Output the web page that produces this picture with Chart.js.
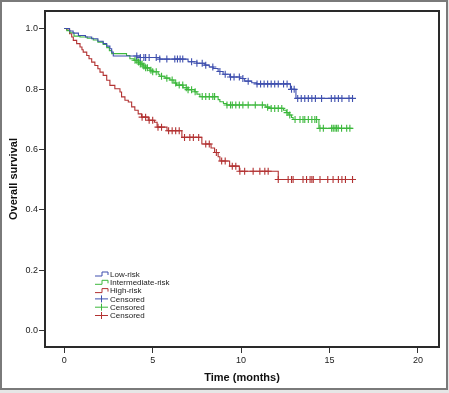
<!DOCTYPE html>
<html>
<head>
<meta charset="utf-8">
<script src="https://cdn.jsdelivr.net/npm/chart.js@4.4.1/dist/chart.umd.min.js"></script>
<style>
  html, body { margin: 0; padding: 0; background: #fff; }
  canvas { display: block; }
</style>
</head>
<body>
<canvas id="kmChart" width="449" height="393"></canvas>
<script>
// Kaplan-Meier curves: time of each drop (months) and survival after the drop
const lowTimes = [0, 0.3, 0.5, 0.8, 1.2, 1.55, 1.9, 2.2, 2.4, 2.58, 2.68, 2.77, 4.3, 5.4, 7.0, 7.5, 7.95, 8.2, 8.42, 8.7, 8.98, 9.36, 9.93, 10.2, 10.6, 10.87, 12.79, 13.1, 16.3];
const lowSurv  = [1.0, 0.992, 0.985, 0.977, 0.972, 0.966, 0.958, 0.95, 0.942, 0.933, 0.922, 0.909, 0.904, 0.899, 0.89, 0.885, 0.879, 0.873, 0.868, 0.858, 0.849, 0.84, 0.835, 0.826, 0.821, 0.817, 0.799, 0.769, 0.769];

const midTimes = [0, 0.15, 0.32, 0.55, 0.89, 1.3, 1.64, 1.9, 2.2, 2.4, 2.55, 2.68, 3.52, 3.71, 3.95, 4.18, 4.3, 4.46, 4.6, 4.84, 5.0, 5.31, 5.4, 5.7, 5.97, 6.2, 6.35, 6.72, 7.0, 7.38, 7.5, 7.67, 8.7, 8.8, 9.0, 9.18, 11.4, 11.6, 12.4, 12.56, 12.7, 12.85, 12.94, 14.4, 16.3];
const midSurv  = [1.0, 0.993, 0.986, 0.975, 0.972, 0.968, 0.962, 0.955, 0.947, 0.937, 0.927, 0.917, 0.911, 0.9, 0.895, 0.889, 0.883, 0.876, 0.87, 0.862, 0.857, 0.849, 0.842, 0.836, 0.83, 0.82, 0.813, 0.804, 0.798, 0.791, 0.783, 0.775, 0.765, 0.758, 0.752, 0.747, 0.74, 0.736, 0.73, 0.722, 0.714, 0.706, 0.699, 0.67, 0.67];

const highTimes = [0, 0.13, 0.3, 0.42, 0.51, 0.7, 0.89, 1.0, 1.07, 1.27, 1.4, 1.55, 1.73, 1.9, 2.02, 2.2, 2.4, 2.58, 2.86, 3.15, 3.24, 3.43, 3.62, 3.81, 3.99, 4.18, 4.37, 4.75, 5.1, 5.25, 5.81, 6.65, 7.78, 8.3, 8.5, 8.7, 8.8, 9.35, 9.9, 12.1, 16.3];
const highSurv  = [1.0, 0.995, 0.983, 0.972, 0.961, 0.95, 0.939, 0.93, 0.922, 0.911, 0.9, 0.889, 0.878, 0.867, 0.856, 0.845, 0.829, 0.812, 0.801, 0.79, 0.774, 0.763, 0.757, 0.741, 0.73, 0.718, 0.707, 0.697, 0.69, 0.674, 0.662, 0.64, 0.618, 0.605, 0.59, 0.576, 0.562, 0.545, 0.528, 0.501, 0.501];

// censored observations (months)
const lowCensor = [4.1, 4.3, 4.5, 4.6, 4.8, 5.2, 5.4, 5.8, 6.25, 6.4, 6.55, 6.7, 7.2, 7.5, 7.8, 8.0, 8.4, 8.8, 9.1, 9.4, 9.6, 9.9, 10.1, 10.4, 10.9, 11.1, 11.3, 11.5, 11.7, 11.9, 12.1, 12.4, 12.6, 12.85, 13.0, 13.2, 13.4, 13.6, 13.8, 14.0, 14.2, 14.55, 15.1, 15.3, 15.5, 15.7, 16.1, 16.3];
const midCensor = [4.0, 4.1, 4.2, 4.3, 4.4, 4.5, 4.6, 4.7, 4.9, 5.0, 5.2, 5.5, 5.8, 6.1, 6.3, 6.5, 6.7, 6.9, 7.0, 7.2, 7.4, 7.8, 8.0, 8.2, 8.4, 8.5, 9.2, 9.4, 9.5, 9.7, 9.9, 10.1, 10.4, 10.8, 11.2, 11.5, 11.7, 11.9, 12.1, 12.3, 12.6, 12.75, 13.05, 13.33, 13.5, 13.6, 13.8, 14.0, 14.17, 14.27, 14.46, 14.65, 15.12, 15.21, 15.31, 15.4, 15.49, 15.68, 15.97, 16.15];
const highCensor = [4.4, 4.6, 4.8, 5.0, 5.3, 5.5, 5.9, 6.1, 6.3, 6.5, 6.8, 7.1, 7.3, 7.6, 8.0, 8.2, 8.6, 8.9, 9.1, 9.5, 9.7, 9.93, 10.2, 10.68, 11.06, 11.34, 11.53, 12.1, 12.66, 12.85, 12.94, 13.5, 13.7, 13.9, 14.0, 14.08, 14.46, 14.9, 15.2, 15.5, 15.7, 15.9, 16.3];

const groupNames = ['Low-risk', 'Intermediate-risk', 'High-risk'];
const groupColors = ['#3e4fae', '#3cb83c', '#b23232'];

const xTicks = [0, 5, 10, 15, 20];
const yTicks = [0.0, 0.2, 0.4, 0.6, 0.8, 1.0];

const FONT = '"Liberation Sans", Arial, sans-serif';

function toPoints(times, surv) {
    return times.map((t, i) => ({ x: t, y: surv[i] }));
}

// survival level of a step curve at time t
function levelAt(times, surv, t) {
    let s = surv[0];
    for (let i = 0; i < times.length; i++) {
        if (times[i] <= t) s = surv[i];
    }
    return s;
}

const curves = [
    [lowTimes, lowSurv, lowCensor],
    [midTimes, midSurv, midCensor],
    [highTimes, highSurv, highCensor]
];

const datasets = [];
curves.forEach((c, i) => {
    datasets.push({
        label: groupNames[i],
        data: toPoints(c[0], c[1]),
        stepped: 'before',
        borderColor: groupColors[i],
        borderWidth: 1.1,
        pointRadius: 0,
        fill: false
    });
});
curves.forEach((c, i) => {
    datasets.push({
        label: 'Censored',
        data: c[2].map(t => ({ x: t, y: levelAt(c[0], c[1], t) })),
        showLine: false,
        pointStyle: 'cross',
        pointRadius: 3.5,
        borderWidth: 1.1,
        borderColor: groupColors[i],
        backgroundColor: groupColors[i]
    });
});

// page frame, plot box and the legend
const framePlugin = {
    id: 'frame',
    beforeDraw(chart) {
        const ctx = chart.ctx;
        ctx.save();
        ctx.fillStyle = '#e6e6e6';
        ctx.fillRect(0, 0, chart.width, chart.height);
        ctx.fillStyle = '#ffffff';
        ctx.fillRect(2, 2, 444, 386);
        ctx.strokeStyle = '#7a7a7a';
        ctx.lineWidth = 2;
        ctx.strokeRect(1, 1, 446, 388);
        ctx.restore();
    },
    afterDraw(chart) {
        const ctx = chart.ctx;
        const a = chart.chartArea;
        ctx.save();
        ctx.strokeStyle = '#2a2a2a';
        ctx.lineWidth = 2;
        ctx.strokeRect(a.left, a.top, a.right - a.left, a.bottom - a.top);

        // legend
        const lx = 95, ly = 274, step = 8.3;
        ctx.font = '8px ' + FONT;
        ctx.textBaseline = 'middle';
        ctx.lineWidth = 1;
        groupNames.forEach((name, i) => {
            const y = ly + i * step;
            ctx.strokeStyle = groupColors[i];
            ctx.beginPath();
            ctx.moveTo(lx, y + 2);
            ctx.lineTo(lx + 7, y + 2);
            ctx.lineTo(lx + 7, y - 2);
            ctx.lineTo(lx + 13, y - 2);
            ctx.lineTo(lx + 13, y + 1);
            ctx.stroke();
            ctx.fillStyle = '#222';
            ctx.fillText(name, lx + 15, y + 0.5);
        });
        groupNames.forEach((name, i) => {
            const y = ly + (i + 3) * step;
            ctx.strokeStyle = groupColors[i];
            ctx.beginPath();
            ctx.moveTo(lx, y);
            ctx.lineTo(lx + 13, y);
            ctx.moveTo(lx + 6.5, y - 3.5);
            ctx.lineTo(lx + 6.5, y + 3.5);
            ctx.stroke();
            ctx.fillStyle = '#222';
            ctx.fillText('Censored', lx + 15, y + 0.5);
        });
        ctx.restore();
    }
};

const ctx = document.getElementById('kmChart').getContext('2d');
new Chart(ctx, {
    type: 'line',
    data: { datasets: datasets },
    options: {
        responsive: false,
        animation: false,
        devicePixelRatio: 1,
        layout: { padding: { top: 11, right: 10, left: 0, bottom: 0 } },
        plugins: {
            legend: { display: false },
            tooltip: { enabled: false }
        },
        scales: {
            x: {
                type: 'linear',
                min: -1.09,
                max: 21.19,
                afterBuildTicks: s => { s.ticks = xTicks.map(v => ({ value: v })); },
                afterFit: s => { s.height = 46; },
                ticks: {
                    autoSkip: false,
                    maxRotation: 0,
                    padding: 2,
                    color: '#222',
                    font: { family: FONT, size: 9 }
                },
                grid: { drawOnChartArea: false, drawTicks: true, tickLength: 6, color: '#333', lineWidth: 1 },
                border: { display: false },
                title: {
                    display: true,
                    text: 'Time (months)',
                    color: '#111',
                    font: { family: FONT, size: 11, weight: 'bold' },
                    padding: { top: 0, bottom: 8 }
                }
            },
            y: {
                type: 'linear',
                min: -0.053,
                max: 1.058,
                afterBuildTicks: s => { s.ticks = yTicks.map(v => ({ value: v })); },
                afterFit: s => { s.width = 45; },
                ticks: {
                    autoSkip: false,
                    padding: 1,
                    color: '#222',
                    font: { family: FONT, size: 9 },
                    callback: v => v.toFixed(1)
                },
                grid: { drawOnChartArea: false, drawTicks: true, tickLength: 6, color: '#333', lineWidth: 1 },
                border: { display: false },
                title: {
                    display: true,
                    text: 'Overall survival',
                    color: '#111',
                    font: { family: FONT, size: 11, weight: 'bold' },
                    padding: { top: 7, bottom: 0 }
                }
            }
        }
    },
    plugins: [framePlugin]
});
</script>
</body>
</html>
